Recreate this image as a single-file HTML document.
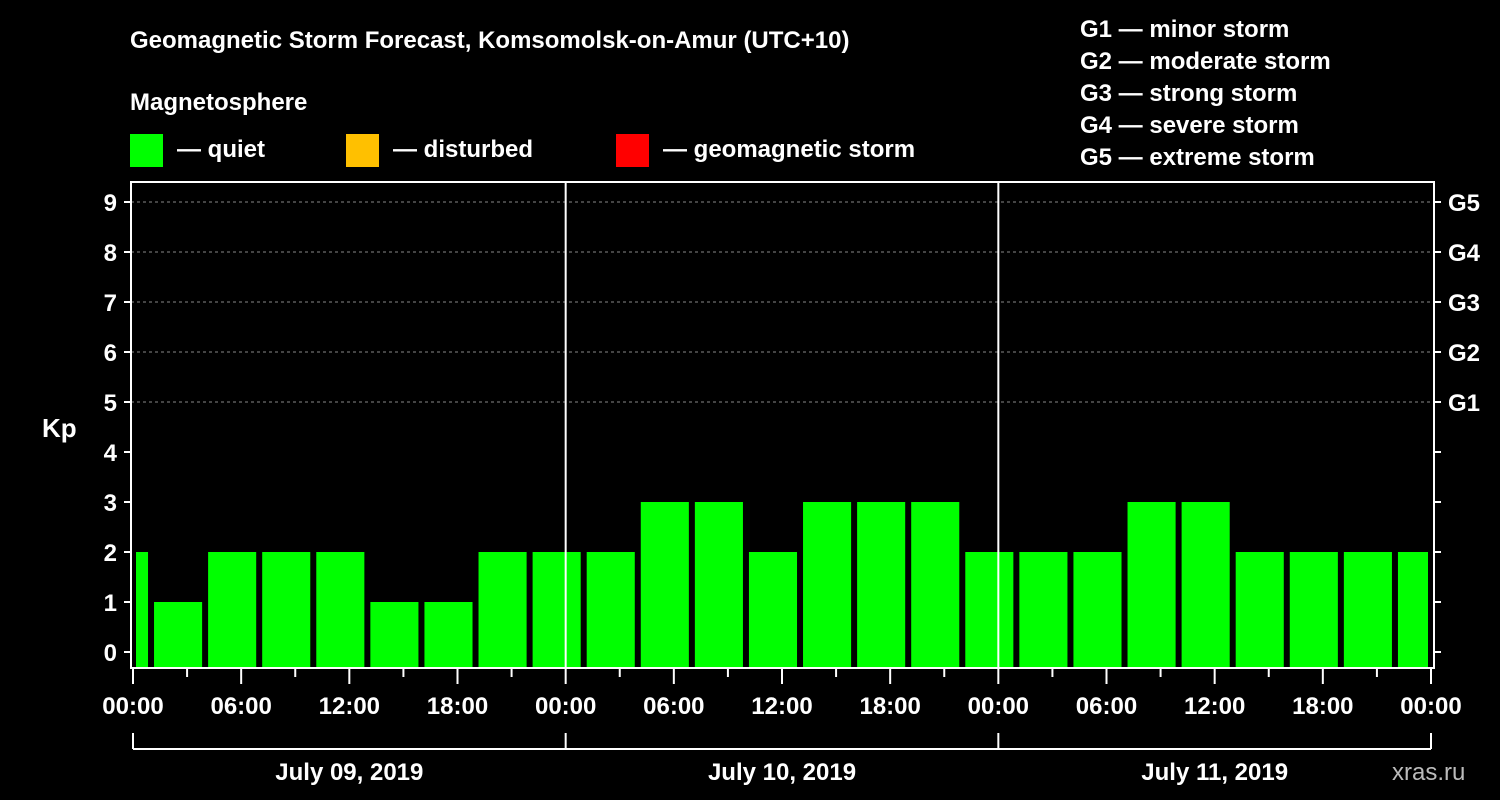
<!DOCTYPE html>
<html><head><meta charset="utf-8"><style>
html,body{margin:0;padding:0;background:#000;}
svg{display:block;font-family:"Liberation Sans",Arial,sans-serif;font-weight:bold;}
</style></head><body>
<svg id="c" width="1500" height="800" viewBox="0 0 1500 800">
<rect width="1500" height="800" fill="#000"/>
<text x="130" y="48" fill="#fff" font-size="24">Geomagnetic Storm Forecast, Komsomolsk-on-Amur (UTC+10)</text>
<text x="130" y="110" fill="#fff" font-size="24">Magnetosphere</text>
<g><rect x="130" y="134" width="33" height="33" fill="#00ff00"/><text x="177" y="157" fill="#fff" font-size="24">— quiet</text></g>
<g><rect x="346" y="134" width="33" height="33" fill="#ffc000"/><text x="393" y="157" fill="#fff" font-size="24">— disturbed</text></g>
<g><rect x="616" y="134" width="33" height="33" fill="#ff0000"/><text x="663" y="157" fill="#fff" font-size="24">— geomagnetic storm</text></g>
<g fill="#fff" font-size="24">
<text x="1080" y="37">G1 — minor storm</text>
<text x="1080" y="69">G2 — moderate storm</text>
<text x="1080" y="101">G3 — strong storm</text>
<text x="1080" y="133">G4 — severe storm</text>
<text x="1080" y="165">G5 — extreme storm</text>
</g>
<text x="42" y="437" fill="#fff" font-size="26">Kp</text>
<g id="grid"></g><g id="bars"></g><g id="axes"></g>
<text x="1392" y="780" fill="#bbb" font-size="24" font-weight="normal">xras.ru</text>
</svg>
<script>
const kpValues=[2,1,2,2,2,1,1,2,2,2,3,3,2,3,3,3,2,2,2,3,3,2,2,2,2];
const startHours=[-2,1,4,7,10,13,16,19,22,25,28,31,34,37,40,43,46,49,52,55,58,61,64,67,70];
const timeLabels=["00:00","06:00","12:00","18:00","00:00","06:00","12:00","18:00","00:00","06:00","12:00","18:00","00:00"];
const dateLabels=["July 09, 2019","July 10, 2019","July 11, 2019"];
const gLabels=["G1","G2","G3","G4","G5"];
const NS="http://www.w3.org/2000/svg";
const X0=133,X1=1431,TOTAL=72,L=131,R=1434,T=182,B=668;
const xs=h=>X0+(X1-X0)*h/TOTAL;
const ys=v=>652-50*v;
function mk(tag,attrs,parent,txt){const e=document.createElementNS(NS,tag);for(const k in attrs)e.setAttribute(k,attrs[k]);if(txt!=null)e.textContent=txt;document.getElementById(parent).appendChild(e);return e;}
// grid
for(let v=5;v<=9;v++){
 const g=mk('line',{x1:L,x2:R,y1:ys(v),y2:ys(v),stroke:'#888','stroke-dasharray':'3,3','stroke-width':1},'grid');
 
 
}
// bars
kpValues.forEach((v,i)=>{
 const a=Math.max(startHours[i],0),b=Math.min(startHours[i]+3,TOTAL);
 const xa=startHours[i]<0?xs(a)+3:xs(a)+3, xb=xs(b)-3;
 const col=v>=5?'#ff0000':(v>=4?'#ffc000':'#00ff00');
 const r=mk('rect',{x:xa,y:ys(v),width:xb-xa,height:B-ys(v),fill:col},'bars');
 
 
});
// day separators
[24,48].forEach(h=>{const l=mk('line',{x1:xs(h),x2:xs(h),y1:T,y2:B,stroke:'#fff','stroke-width':2},'axes');
 
 });
// frame
const f=mk('rect',{x:L,y:T,width:R-L,height:B-T,fill:'none',stroke:'#fff','stroke-width':2},'axes');


for(let v=0;v<=9;v++){
 mk('line',{x1:L-7,x2:L,y1:ys(v),y2:ys(v),stroke:'#fff','stroke-width':2},'axes');
 mk('line',{x1:R,x2:R+7,y1:ys(v),y2:ys(v),stroke:'#fff','stroke-width':2},'axes');
 const t=mk('text',{x:L-14,y:ys(v)+9,fill:'#fff','font-size':24,'text-anchor':'end'},'axes',String(v));
 
 
}
gLabels.forEach((g,i)=>{const t=mk('text',{x:1448,y:ys(5+i)+9,fill:'#fff','font-size':24},'axes',g);
 
 });
for(let h=0;h<=TOTAL;h+=3){
 const major=h%6===0;
 mk('line',{x1:xs(h),x2:xs(h),y1:B,y2:B+(major?16:9),stroke:'#fff','stroke-width':2},'axes');
}
timeLabels.forEach((s,i)=>{const t=mk('text',{x:xs(i*6),y:714,fill:'#fff','font-size':24,'text-anchor':'middle'},'axes',s);
 
 });
mk('line',{x1:xs(0),x2:xs(72),y1:749,y2:749,stroke:'#fff','stroke-width':2},'axes');
for(let d=0;d<=3;d++)mk('line',{x1:xs(d*24),x2:xs(d*24),y1:733,y2:749,stroke:'#fff','stroke-width':2},'axes');
dateLabels.forEach((s,i)=>{const t=mk('text',{x:xs(i*24+12),y:780,fill:'#fff','font-size':24,'text-anchor':'middle'},'axes',s);
 
 });
</script>
</body></html>
